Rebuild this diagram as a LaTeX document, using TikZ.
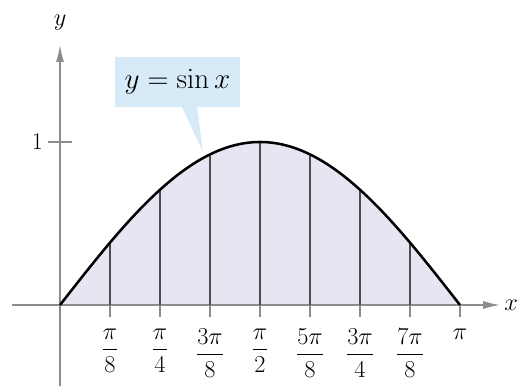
\documentclass[tikz,border=0pt]{standalone}
\usepackage{amsmath}
\usepackage{xcolor}
\usepackage{tikz}
\usetikzlibrary{arrows.meta,positioning,calc}

\definecolor{areafill}{RGB}{232,228,241}
\definecolor{calloutfill}{RGB}{214,234,248}
\definecolor{axisgray}{RGB}{140,140,140}

\begin{document}
\begin{tikzpicture}[
    font=\fontsize{17}{20}\selectfont,
    axis/.style={draw=axisgray, line width=1pt, -{Latex[length=0.42cm, width=0.2cm]}},
    slice/.style={draw=black!70, line width=0.8pt},
    tickmark/.style={draw=axisgray, line width=0.8pt},
    ticklabel/.style={anchor=north, inner sep=1pt},
    sinecurve/.style={line width=1.8pt, line join=round},
    calloutbox/.style={fill=calloutfill, minimum width=3.125cm, minimum height=1.25cm,
                       font=\fontsize{20}{24}\selectfont}
  ]
  \useasboundingbox (-1.5,-2.025) rectangle (11.5,7.625);
  % area under the curve
  \fill[areafill] (0,0) -- plot[domain=0:10, samples=90, smooth] (\x,{4.075*sin(18*\x)}) -- cycle;
  % axes
  \coordinate (origin) at (0,0);
  \coordinate (xstart) at (-1.2,0);
  \coordinate (xend) at (11.0,0);
  \coordinate (ystart) at (0,-2.025);
  \coordinate (yend) at (0,6.5);
  \draw[axis] (xstart) -- (xend);
  \draw[axis] (ystart) -- (yend);
  \node[anchor=west, inner sep=0pt] (xlabel) at (11.1,0) {$x$};
  \node[inner sep=0pt] (ylabel) at (0,7.05) {$y$};
  % tick at 1
  \coordinate (oneleft) at (-0.3,4.075);
  \coordinate (oneright) at (0.3,4.075);
  \draw[tickmark] (oneleft) -- (oneright);
  \node[left=0.12cm of oneleft, inner sep=0pt] (one) {1};
  % slices and ticks
  \foreach \k in {1,...,8} {
    \coordinate (base\k) at (1.25*\k,0);
    \coordinate (foot\k) at (1.25*\k,-0.3);
    \draw[tickmark] (base\k) -- (foot\k);
  }
  \foreach \k in {1,...,7} {
    \coordinate (top\k) at (1.25*\k,{4.075*sin(22.5*\k)});
    \draw[slice] (base\k) -- (top\k);
  }
  \foreach \k/\lab in {1/{\dfrac{\pi}{8}}, 2/{\dfrac{\pi}{4}}, 3/{\dfrac{3\pi}{8}}, 4/{\dfrac{\pi}{2}},
                       5/{\dfrac{5\pi}{8}}, 6/{\dfrac{3\pi}{4}}, 7/{\dfrac{7\pi}{8}}, 8/{\pi}}
    \node[ticklabel] (lab\k) at ($(base\k)+(0,-0.55)$) {$\lab$};
  % callout
  \node[calloutbox] (callout) at (2.9375,5.575) {$y = \sin x$};
  \coordinate (tip) at (3.575,{4.075*sin(18*3.575)+0.15});
  \fill[calloutfill] ($(callout.south)+(0.11,0.01)$) -- (tip) -- ($(callout.south)+(0.49,0.01)$) -- cycle;
  % the curve
  \draw[sinecurve] plot[domain=0:10, samples=90, smooth] (\x,{4.075*sin(18*\x)});
\end{tikzpicture}
\end{document}
